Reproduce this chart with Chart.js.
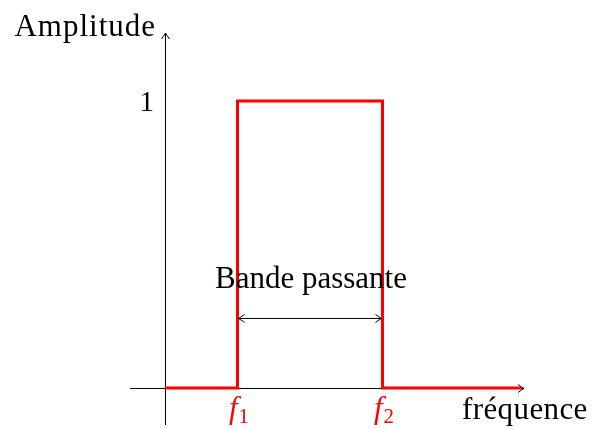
<!DOCTYPE html>
<html>
<head>
<meta charset="utf-8">
<script src="https://cdn.jsdelivr.net/npm/chart.js@4/dist/chart.umd.min.js"></script>
<style>
html,body{margin:0;padding:0;background:#fff;}
#wrap{width:600px;height:429px;}
</style>
</head>
<body>
<div id="wrap"><canvas id="c" width="600" height="429"></canvas></div>
<script>
// Data (frequency in units where f1 = 1, f2 = 3)
const freq = [0, 1, 1, 3, 3, 4.92];
const amplitude = [0, 0, 1, 1, 0, 0];
const yTicks = [1];
const xMarks = [1, 3];
const xMarkLabels = ["f1", "f2"];
const bandLabel = "Bande passante";
const yTitle = "Amplitude";
const xTitle = "fréquence";

const X_MIN = -0.483, X_MAX = 4.952, Y_MIN = -0.129, Y_MAX = 1.237;
const SERIF = '"Liberation Serif", "DejaVu Serif", serif';

function tip(ctx, x, y, dir) {
  ctx.save();
  ctx.translate(x, y);
  ctx.rotate(dir);
  ctx.beginPath();
  ctx.moveTo(-6, -4);
  ctx.quadraticCurveTo(-2, -1, 0, 0);
  ctx.quadraticCurveTo(-2, 1, -6, 4);
  ctx.stroke();
  ctx.restore();
}

const annot = {
  id: 'annot',
  beforeDatasetsDraw(chart) {
    const ctx = chart.ctx, xs = chart.scales.x, ys = chart.scales.y;
    const x0 = xs.getPixelForValue(0), y0 = ys.getPixelForValue(0);
    ctx.save();
    ctx.strokeStyle = '#000';
    ctx.lineWidth = 1;
    ctx.beginPath();
    ctx.moveTo(xs.getPixelForValue(X_MIN), y0 + 0.5);
    ctx.lineTo(xs.getPixelForValue(X_MAX), y0 + 0.5);
    ctx.stroke();
    tip(ctx, xs.getPixelForValue(X_MAX), y0 + 0.5, 0);
    ctx.beginPath();
    ctx.moveTo(x0 + 0.5, ys.getPixelForValue(Y_MIN));
    ctx.lineTo(x0 + 0.5, ys.getPixelForValue(Y_MAX));
    ctx.stroke();
    tip(ctx, x0 + 0.5, ys.getPixelForValue(Y_MAX), -Math.PI / 2);
    ctx.restore();
  },
  afterDraw(chart) {
    const ctx = chart.ctx, xs = chart.scales.x, ys = chart.scales.y;
    const x0 = xs.getPixelForValue(0), y0 = ys.getPixelForValue(0);
    ctx.save();
    ctx.fillStyle = '#000';
    ctx.font = '31px ' + SERIF;
    ctx.textAlign = 'right';
    ctx.textBaseline = 'alphabetic';
    ctx.letterSpacing = '1px';
    ctx.fillText(yTitle, x0 - 9, ys.getPixelForValue(Y_MAX) + 3);
    ctx.letterSpacing = '0px';
    ctx.font = '29px ' + SERIF;
    yTicks.forEach(v => ctx.fillText(String(v), x0 - 11, ys.getPixelForValue(v) + 10));
    ctx.font = '31px ' + SERIF;
    ctx.textAlign = 'left';
    ctx.letterSpacing = '0.4px';
    ctx.fillText(xTitle, xs.getPixelForValue(X_MAX) - 62, y0 + 31);
    ctx.letterSpacing = '0px';
    const xa = xs.getPixelForValue(xMarks[0]), xb = xs.getPixelForValue(xMarks[1]);
    ctx.textAlign = 'center';
    ctx.fillText(bandLabel, (xa + xb) / 2 + 1, ys.getPixelForValue(0.35));
    const ya = ys.getPixelForValue(0.244) + 0.5;
    ctx.strokeStyle = '#000';
    ctx.lineWidth = 1;
    ctx.beginPath();
    ctx.moveTo(xa + 1, ya);
    ctx.lineTo(xb - 1, ya);
    ctx.stroke();
    tip(ctx, xa + 1, ya, Math.PI);
    tip(ctx, xb - 1, ya, 0);
    ctx.fillStyle = '#ff0000';
    xMarks.forEach((v, i) => {
      const px = xs.getPixelForValue(v);
      const lab = xMarkLabels[i];
      ctx.font = 'italic 31px ' + SERIF;
      ctx.textAlign = 'left';
      const w1 = ctx.measureText(lab[0]).width;
      ctx.font = '21px ' + SERIF;
      const w2 = ctx.measureText(lab.slice(1)).width;
      const start = px - (w1 + w2) / 2 + 1;
      ctx.font = 'italic 31px ' + SERIF;
      ctx.fillText(lab[0], start, y0 + 30);
      ctx.font = '21px ' + SERIF;
      ctx.fillText(lab.slice(1), start + w1 + 1, y0 + 35);
    });
    ctx.restore();
  }
};

new Chart(document.getElementById('c'), {
  type: 'line',
  data: {
    datasets: [{
      data: freq.map((f, i) => ({ x: f, y: amplitude[i] })),
      borderColor: '#ff0000',
      borderWidth: 3,
      pointRadius: 0,
      tension: 0,
      fill: false,
      borderJoinStyle: 'miter'
    }]
  },
  options: {
    responsive: false,
    animation: false,
    events: [],
    layout: { padding: { left: 130, right: 76, top: 33, bottom: 4 } },
    plugins: { legend: { display: false }, tooltip: { enabled: false } },
    scales: {
      x: { type: 'linear', min: X_MIN, max: X_MAX, display: false },
      y: { type: 'linear', min: Y_MIN, max: Y_MAX, display: false }
    }
  },
  plugins: [annot]
});
</script>
</body>
</html>
